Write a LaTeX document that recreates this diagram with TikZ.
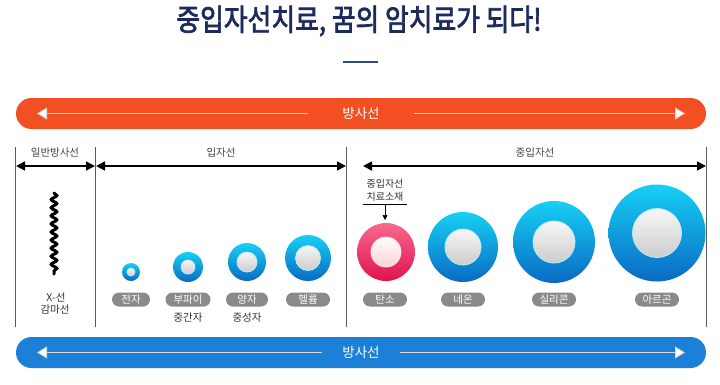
\documentclass[tikz,border=0pt]{standalone}
\usepackage{fontspec}
\usepackage{graphicx}
\setmainfont{Noto Sans CJK KR}
\newfontfamily\titlefont[FakeBold=2.5]{Noto Sans CJK KR}
\usetikzlibrary{arrows.meta,decorations.pathmorphing,shapes.misc}
\definecolor{navy}{HTML}{1D2A5C}
\definecolor{tline}{HTML}{2E4D88}
\definecolor{orangebar}{HTML}{F24F22}
\definecolor{bluebar}{HTML}{1C80D8}
\definecolor{ringtop}{HTML}{16D0F4}
\definecolor{ringbot}{HTML}{0A6AC4}
\definecolor{pinktop}{HTML}{F8688F}
\definecolor{pinkbot}{HTML}{E0134E}
\definecolor{pillgray}{HTML}{8A8A8A}
\definecolor{vgray}{HTML}{5A5A5A}
\definecolor{labgray}{HTML}{444444}
\tikzset{
  barbox/.style={rounded rectangle, minimum width=690pt, minimum height=31pt, inner sep=0pt, draw=none},
  bartext/.style={text=white, font=\fontsize{13.5}{15}\selectfont, inner sep=4pt},
  barline/.style={draw=white!85!black, line width=1pt, -{Triangle[length=10pt,width=12pt,fill=white]}},
  dimline/.style={line width=1.6pt, {Triangle[length=9pt,width=9pt]}-{Triangle[length=9pt,width=9pt]}},
  vline/.style={draw=vgray, line width=0.9pt},
  dimlab/.style={text=labgray, font=\fontsize{10.5}{12}\selectfont, inner sep=0pt},
  pill/.style={rounded rectangle, fill=pillgray, text=white, minimum height=14pt, minimum width=42pt, inner sep=0pt, font=\fontsize{10.5}{12}\selectfont},
  sublab/.style={text=black!80, font=\fontsize{10.5}{12}\selectfont, inner sep=0pt},
  ringb/.style={circle, inner sep=0pt, top color=ringtop, bottom color=ringbot, draw=none},
  ringp/.style={circle, inner sep=0pt, top color=pinktop, bottom color=pinkbot, draw=none},
  coreb/.style={circle, inner sep=0pt, top color=white!97!black, bottom color=white!80!black, draw=cyan!25!white, line width=0.8pt},
  corep/.style={circle, inner sep=0pt, top color=white!95!pink, bottom color=pink!70!white, draw=pink!40!white, line width=0.8pt},
}
\begin{document}
\begin{tikzpicture}[x=1pt,y=-1pt]
\useasboundingbox (0,0) rectangle (720,384);
% title
\node[text=navy, inner sep=0pt] (title) at (359,21) {\scalebox{0.86}[1]{\fontsize{30}{32}\selectfont\titlefont 중입자선치료, 꿈의 암치료가 되다!}};
\coordinate (ta) at (343,62); \coordinate (tb) at (378,62);
\draw[tline, line width=1.8pt] (ta) -- (tb);
% orange bar
\node[barbox, fill=orangebar] (obar) at (361,113.5) {};
\node[bartext] (otext) at (361,113.5) {방사선};
\coordinate (oL) at (37,113.5); \coordinate (oR) at (685,113.5);
\draw[barline] (otext.west) ++(-30pt,0) -- (oL);
\draw[barline] (otext.east) ++(30pt,0) -- (oR);
% blue bar
\node[barbox, fill=bluebar] (bbar) at (361,352.5) {};
\node[bartext] (btext) at (361,352.5) {방사선};
\coordinate (bL) at (37,352.5); \coordinate (bR) at (685,352.5);
\draw[barline] (btext.west) ++(-16pt,0) -- (bL);
\draw[barline] (btext.east) ++(16pt,0) -- (bR);
% vertical lines
\coordinate (v1t) at (15.5,147); \coordinate (v1b) at (15.5,327);
\coordinate (v2t) at (95.5,147); \coordinate (v2b) at (95.5,327);
\coordinate (v3t) at (346.5,147); \coordinate (v3b) at (346.5,327);
\coordinate (v4t) at (706.5,147); \coordinate (v4b) at (706.5,327);
\draw[vline] (v1t) -- (v1b);
\draw[vline] (v2t) -- (v2b);
\draw[vline] (v3t) -- (v3b);
\draw[vline] (v4t) -- (v4b);
% dimension arrows
\coordinate (a1) at (16,166); \coordinate (a2) at (95,166);
\coordinate (a3) at (96,166); \coordinate (a4) at (346,166);
\coordinate (a5) at (363,166); \coordinate (a6) at (706,166);
\draw[dimline] (a1) -- (a2);
\draw[dimline] (a3) -- (a4);
\draw[dimline] (a5) -- (a6);
\node[dimlab] (l1) at (55,153) {일반방사선};
\node[dimlab] (l2) at (221,153) {입자선};
\node[dimlab] (l3) at (535,153) {중입자선};
% wave
\coordinate (w1) at (54,193); \coordinate (w2) at (54,274);
\draw[line width=3pt, line cap=round, decorate, decoration={snake, amplitude=2.8pt, segment length=8.1pt}] (w1) -- (w2);
\node[sublab] (xr) at (56,297) {X-선};
\node[sublab] (gr) at (55,309.5) {감마선};
% donuts
\node[ringb, minimum size=18pt] (d1) at (131,272) {};
\node[coreb, minimum size=8pt] (c1) at (d1) {};
\node[ringb, minimum size=30pt] (d2) at (188,267) {};
\node[coreb, minimum size=14pt] (c2) at (d2) {};
\node[ringb, minimum size=38pt] (d3) at (247,262) {};
\node[coreb, minimum size=20pt] (c3) at (d3) {};
\node[ringb, minimum size=46pt] (d4) at (308,258) {};
\node[coreb, minimum size=25pt] (c4) at (d4) {};
\node[ringp, minimum size=58pt] (d5) at (386,252) {};
\node[corep, minimum size=30pt] (c5) at (d5) {};
\node[ringb, minimum size=70pt] (d6) at (463,247) {};
\node[coreb, minimum size=36pt] (c6) at (d6) {};
\node[ringb, minimum size=82pt] (d7) at (554,242) {};
\node[coreb, minimum size=42pt] (c7) at (d7) {};
\node[ringb, minimum size=97pt] (d8) at (657,233) {};
\node[coreb, minimum size=49pt] (c8) at (d8) {};
% pills
\node[pill, minimum width=38pt] (p1) at (131,299.5) {전자};
\node[pill, minimum width=45pt] (p2) at (188,299.5) {부파이};
\node[pill] (p3) at (247,299.5) {양자};
\node[pill, minimum width=44pt] (p4) at (308,299.5) {헬륨};
\node[pill, minimum width=44pt] (p5) at (385,299.5) {탄소};
\node[pill, minimum width=44pt] (p6) at (463,299.5) {네온};
\node[pill, minimum width=44pt] (p7) at (554,299.5) {실리콘};
\node[pill, minimum width=44pt] (p8) at (657,299.5) {아르곤};
\node[sublab] (s2) at (188,318) {중간자};
\node[sublab] (s3) at (247,318) {중성자};
% annotation
\node[sublab, align=center, font=\fontsize{10}{12.5}\selectfont] (ann) at (385,190) {중입자선\\치료소재};
\coordinate (u1) at (363,204.5); \coordinate (u2) at (407,204.5);
\draw[line width=0.7pt] (u1) -- (u2);
\coordinate (ua) at (385,204.5); \coordinate (ub) at (385,220);
\draw[line width=0.7pt, -{Triangle[length=5pt,width=5pt]}] (ua) -- (ub);
\end{tikzpicture}
\end{document}
